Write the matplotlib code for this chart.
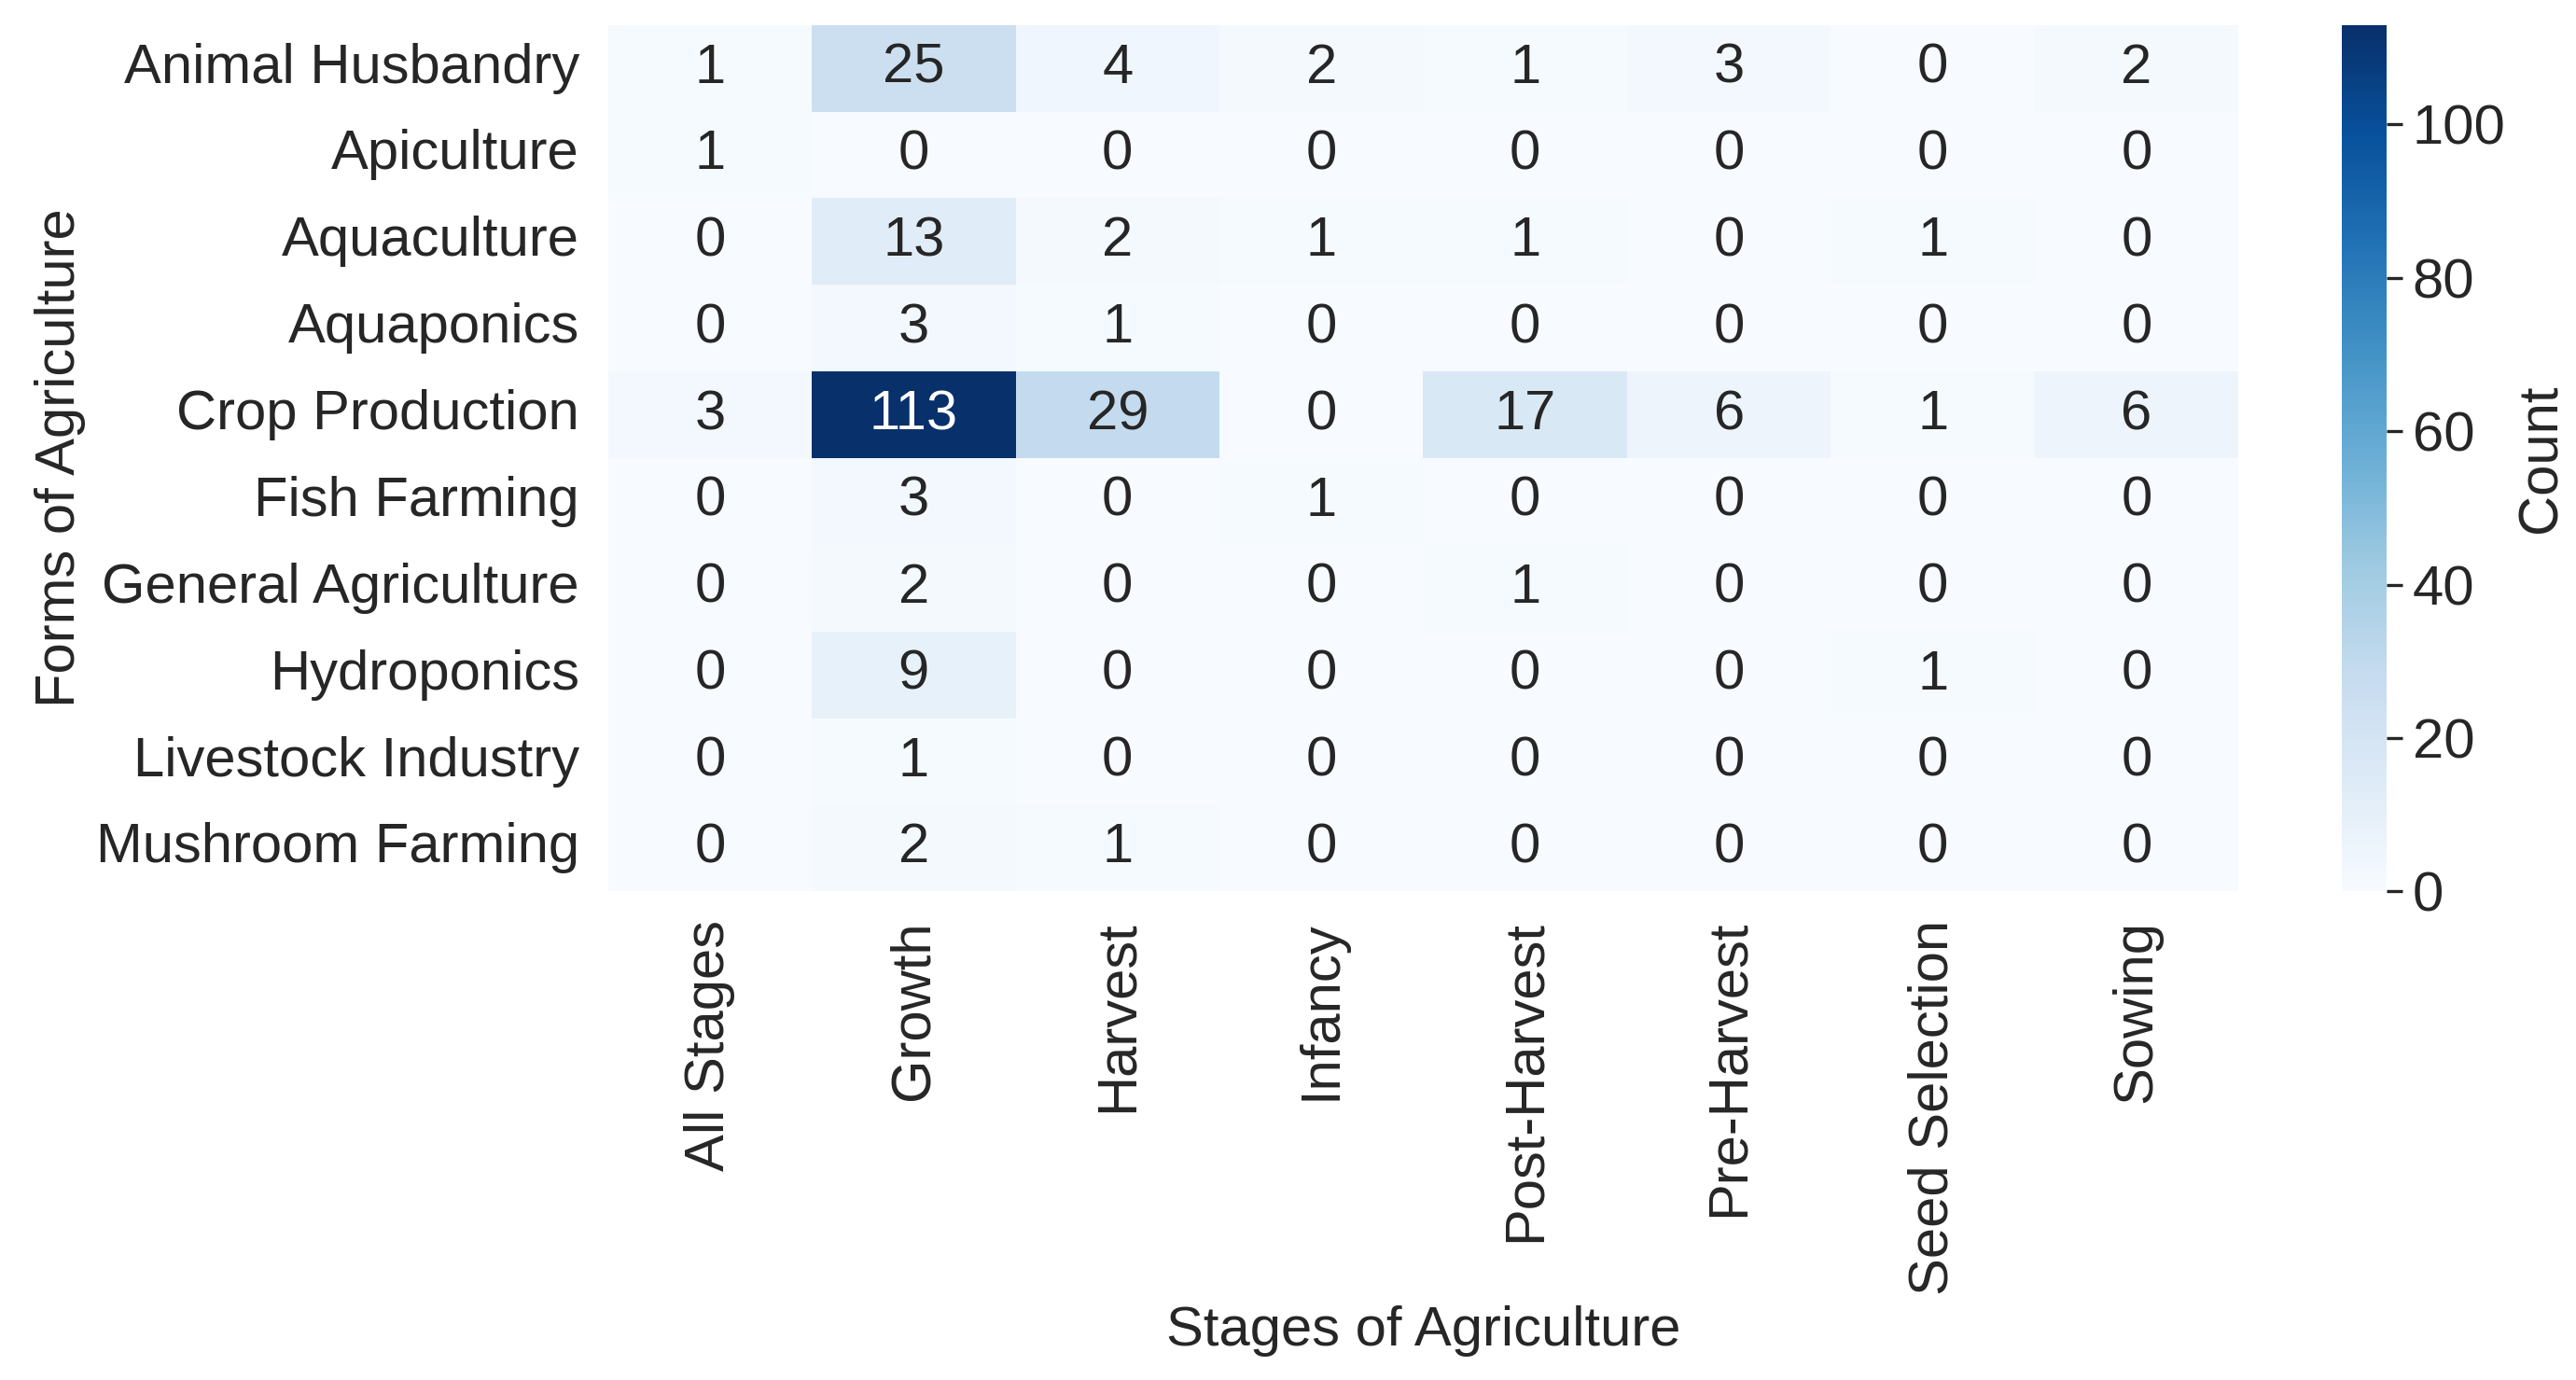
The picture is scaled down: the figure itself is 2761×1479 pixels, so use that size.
import matplotlib
matplotlib.use('Agg')
import matplotlib.pyplot as plt
import seaborn as sns
import pandas as pd

forms = ['Animal Husbandry', 'Apiculture', 'Aquaculture', 'Aquaponics', 'Crop Production',
         'Fish Farming', 'General Agriculture', 'Hydroponics', 'Livestock Industry', 'Mushroom Farming']
stages = ['All Stages', 'Growth', 'Harvest', 'Infancy', 'Post-Harvest', 'Pre-Harvest',
          'Seed Selection', 'Sowing']
counts = [
    [1, 25, 4, 2, 1, 3, 0, 2],
    [1, 0, 0, 0, 0, 0, 0, 0],
    [0, 13, 2, 1, 1, 0, 1, 0],
    [0, 3, 1, 0, 0, 0, 0, 0],
    [3, 113, 29, 0, 17, 6, 1, 6],
    [0, 3, 0, 1, 0, 0, 0, 0],
    [0, 2, 0, 0, 1, 0, 0, 0],
    [0, 9, 0, 0, 0, 0, 1, 0],
    [0, 1, 0, 0, 0, 0, 0, 0],
    [0, 2, 1, 0, 0, 0, 0, 0],
]

sns.set_style('white')
plt.rcParams['font.family'] = ['Liberation Sans', 'DejaVu Sans']

df = pd.DataFrame(counts, index=forms, columns=stages)
fs = 21.5

fig = plt.figure(figsize=(13.805, 7.395), dpi=200)
ax = fig.add_axes([0.236, 0.354, 0.633, 0.628])
cax = fig.add_axes([0.909, 0.354, 0.0174, 0.628])

sns.heatmap(df, ax=ax, cbar_ax=cax, cmap='Blues', annot=True, fmt='d',
            annot_kws={'fontsize': fs, 'color': '#262626'},
            cbar_kws={'label': 'Count'})

# dark cell gets white text
for t in ax.texts:
    if t.get_text() == '113':
        t.set_color('white')

ax.set_xlabel('Stages of Agriculture', fontsize=fs, color='#262626', labelpad=4)
ax.set_ylabel('Forms of Agriculture', fontsize=fs, color='#262626', labelpad=4)
ax.tick_params(axis='x', labelsize=fs, rotation=90, colors='#262626', length=0, pad=11)
ax.tick_params(axis='y', labelsize=fs, rotation=0, colors='#262626', length=0, pad=11)
cax.tick_params(labelsize=fs, colors='#262626', length=6, width=1.2, pad=4)
cax.yaxis.label.set_size(fs)
cax.yaxis.label.set_color('#262626')

fig.savefig('out.png', dpi=200)
